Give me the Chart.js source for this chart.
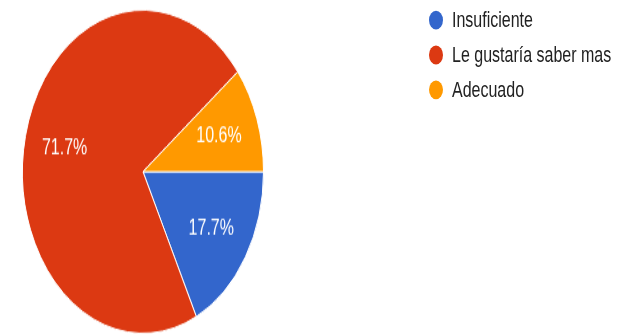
<!DOCTYPE html>
<html>
<head>
<meta charset="utf-8">
<script src="https://cdn.jsdelivr.net/npm/chart.js@4"></script>
<style>
  html, body { margin: 0; padding: 0; background: #fff; overflow: hidden; }
  #stage {
    position: absolute; left: 0; top: 0; width: 626px; height: 249px;
    transform: scaleY(1.3414); transform-origin: 0 0;
  }
  #pieBox { position: absolute; left: 22px; top: 6.5px; width: 242px; height: 242px; }
  #legend {
    position: absolute; left: 429px; top: 2px; margin: 0; padding: 0; list-style: none;
    font-family: 'Liberation Sans', Arial, sans-serif; font-size: 16px; color: #222;
  }
  #legend li { height: 26px; display: flex; align-items: center; }
  #legend .dot { width: 14px; height: 14px; border-radius: 50%; margin-right: 9px; }
</style>
</head>
<body>
<div id="stage">
  <div id="pieBox"><canvas id="pie"></canvas></div>
  <ul id="legend"></ul>
</div>
<script>
const labels = ['Insuficiente', 'Le gustaría saber mas', 'Adecuado'];
const values = [17.7, 71.7, 10.6];
const colors = ['#3366cc', '#dc3912', '#ff9900'];

// legend built from the same arrays
const legend = document.getElementById('legend');
labels.forEach((name, i) => {
    const li = document.createElement('li');
    li.innerHTML = `<span class="dot" style="background:${colors[i]}"></span><span>${name}</span>`;
    legend.appendChild(li);
});

// percentage text inside each slice
const sliceLabels = {
    id: 'sliceLabels',
    afterDatasetsDraw(chart) {
        const ctx = chart.ctx;
        const meta = chart.getDatasetMeta(0);
        ctx.save();
        ctx.fillStyle = '#fff';
        ctx.font = '16px "Liberation Sans", Arial, sans-serif';
        ctx.textAlign = 'center';
        ctx.textBaseline = 'middle';
        meta.data.forEach((arc, i) => {
            const mid = (arc.startAngle + arc.endAngle) / 2;
            const r = arc.outerRadius * 0.667;
            ctx.fillText(values[i].toFixed(1) + '%', arc.x + Math.cos(mid) * r, arc.y + Math.sin(mid) * r);
        });
        ctx.restore();
    }
};

new Chart(document.getElementById('pie'), {
    type: 'pie',
    data: {
        labels: labels,
        datasets: [{
            data: values,
            backgroundColor: colors,
            borderColor: '#fff',
            borderWidth: 1
        }]
    },
    options: {
        responsive: true,
        maintainAspectRatio: false,
        animation: false,
        rotation: 90,
        layout: { padding: 0 },
        plugins: {
            legend: { display: false },
            tooltip: { enabled: false }
        }
    },
    plugins: [sliceLabels]
});
</script>
</body>
</html>
